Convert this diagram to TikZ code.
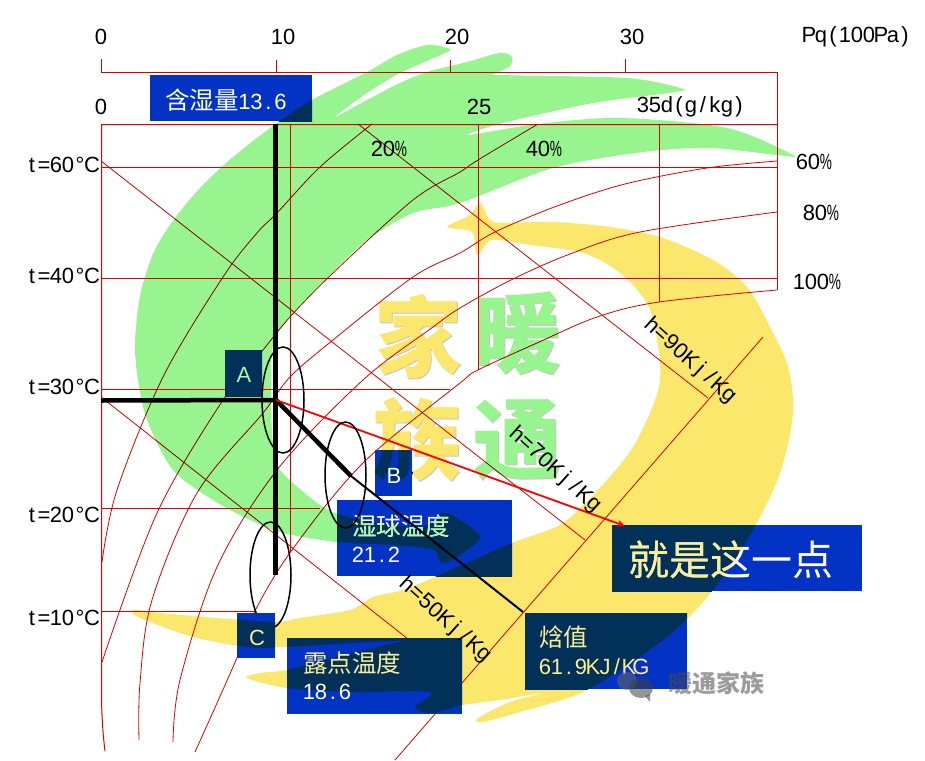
\documentclass[tikz,border=0pt]{standalone}
\usepackage{fontspec}
\setmainfont{Liberation Sans}
\newfontfamily\cjk{Noto Sans CJK SC}
\usetikzlibrary{arrows.meta,shapes.geometric}
\definecolor{logogreen}{HTML}{98F48E}
\definecolor{logoyellow}{HTML}{FBE76C}
\definecolor{boxblue}{HTML}{0233C4}
\definecolor{navy}{HTML}{013058}
\definecolor{gridred}{HTML}{DD0000}
\definecolor{paleg}{HTML}{B4F5A8}
\definecolor{paley}{HTML}{FBEE94}
\newcommand\LA{\fontsize{22}{24}\selectfont}
\newcommand\CA{\cjk\fontsize{24.5}{26}\selectfont}
\makeatletter
\newcommand\MC[2][12pt]{\@tfor\mcx:=#2\do{\hbox to #1{\hss\mcx\hss}}}
\makeatother
\newcommand\PC{\scalebox{.62}[1]{\%}}
\newcommand\greenshape{plot[smooth cycle,tension=.5] coordinates {(793,155)(777,155)(710,148)(643,152)(553,168)(460,203)(413,213)(367,240)(328,277)(290,317)(273,345)(271,400)(273,443)(280,470)(323,507)(360,520)(420,527)(443,513)(460,520)(480,537)(460,555)(442,563)(433,550)(393,545)(337,542)(283,533)(250,520)(213,500)(173,470)(147,420)(138,380)(135,343)(140,296)(153,254)(172,222)(200,188)(233,157)(277,123)(312,100)(367,72)(397,55)(427,45)(447,48)(447,52)(400,73)(367,93)(335,117)(367,100)(400,83)(427,72)(467,62)(500,53)(512,57)(510,66)(497,73)(500,75)(627,78)(680,88)(676,92)(593,103)(503,123)(468,135)(538,124)(620,118)(727,128)}}
\newcommand\yellowshape{plot[smooth cycle,tension=.5] coordinates {(480,203)(490,220)(503,223)(553,222)(610,227)(660,237)(713,260)(747,287)(770,327)(788,367)(793,413)(780,473)(753,530)(713,590)(667,637)(587,690)(520,712)(482,722)(478,718)(510,702)(543,693)(500,700)(462,705)(433,713)(415,707)(430,692)(353,692)(287,688)(247,678)(260,673)(287,670)(337,657)(407,640)(453,632)(440,638)(353,643)(287,647)(247,647)(193,637)(140,618)(133,610)(160,613)(217,618)(275,622)(300,618)(350,610)(373,597)(403,590)(437,576)(512,543)(563,523)(607,480)(637,440)(660,380)(650,310)(620,273)(583,253)(530,245)(492,240)(477,255)(472,232)(447,227)(470,215)}}
\newcommand\BlueBox[5]{%
  \pgfmathsetmacro\bxw{#4-#2}\pgfmathsetmacro\bxh{#5-#3}%
  \node[bluebox,minimum width=\bxw pt,minimum height=\bxh pt] (#1) at ({(#2+#4)/2},{(#3+#5)/2}) {};
  \begin{scope}\clip (#2,#3) rectangle (#4,#5); \fill[navy] \greenshape; \fill[navy] \yellowshape; \end{scope}}
\newcommand\BoxText[4]{%
  \node[boxtxt,text=white,#3] (#1) at (#2) {#4};
  \begin{scope}\clip \greenshape; \node[boxtxt,text=paleg,#3] (#1g) at (#2) {#4}; \end{scope}
  \begin{scope}\clip \yellowshape; \node[boxtxt,text=paley,#3] (#1y) at (#2) {#4}; \end{scope}}
\tikzset{
  bluebox/.style={fill=boxblue,draw=none,inner sep=0pt,outer sep=0pt},
  boxtxt/.style={inner sep=0pt,outer sep=0pt},
  lbl/.style={inner sep=0pt,outer sep=0pt,font=\LA,text=black},
  logochar/.style={inner sep=0pt,font=\cjk\bfseries\fontsize{88}{92}\selectfont},
  gridline/.style={draw=gridred,line width=1pt},
  thin curve/.style={draw=gridred,line width=.8pt,smooth,tension=.55},
  thin line/.style={draw=gridred,line width=.8pt},
  heavy/.style={draw=black,line cap=butt},
  ringline/.style={draw=black,line width=1.5pt,ellipse,inner sep=0pt}
}
\begin{document}
\begin{tikzpicture}[x=1pt,y=-1pt]
\useasboundingbox (0,0) rectangle (925,760);
\fill[white] (0,0) rectangle (925,760);
% logo
\fill[logogreen] \greenshape;
\fill[logoyellow] \yellowshape;
\node[logochar,text=black!22] (jiaS) at (419,338) {家};
\node[logochar,text=black!22] (nuanS) at (518,334) {暖};
\node[logochar,text=black!22] (zuS) at (418,441) {族};
\node[logochar,text=black!22] (tongS) at (518,441) {通};
\node[logochar,text=logoyellow] (jia) at (418,337) {家};
\node[logochar,text=logogreen] (nuan) at (517,333) {暖};
\node[logochar,text=logoyellow] (zu) at (417,440) {族};
\node[logochar,text=logogreen] (tong) at (517,440) {通};
% chart frame and grid
\draw[gridline] (101.5,59) -- (101.5,72.5) -- (777.5,72.5) -- (777.5,290);
\draw[gridline] (276.5,60) -- (276.5,72) (450.5,60) -- (450.5,72) (625.5,59) -- (625.5,72);
\draw[gridline] (777.5,124.5) -- (101.5,124.5) -- (101.5,700) .. controls (102,720) and (103,735) .. (105,751);
\draw[gridline] (101,167.5) -- (777,167.5) (101,278.5) -- (777,278.5) (101,389.5) -- (450,389.5) (101,508.5) -- (320,508.5) (101,611.5) -- (256,611.5);
\draw[gridline] (290.5,124) -- (290.5,552) (478.5,124) -- (478.5,370) (659.5,124) -- (659.5,302);
\begin{scope}[blend mode=multiply]
\draw[thin curve] plot coordinates {(372,124)(320,167)(277,213)(257,233)(223,277)(163,377)(117,490)(102,562)};
\draw[thin curve] plot coordinates {(538,124)(478,160)(460,172)(413,200)(333,273)(290,317)(263,350)(223,400)(157,513)(102,662)};
\draw[thin curve] plot coordinates {(777,161)(707,168)(625,184)(557,206)(495,232)(460,253)(413,277)(333,340)(290,377)(263,413)(197,493)(152,600)(140,683)(139,740)};
\draw[thin curve] plot coordinates {(777,212)(640,232)(570,254)(511,280)(460,308)(433,327)(363,380)(277,470)(217,567)(180,680)(173,742)};
\draw[thin curve] plot coordinates {(777,290)(659,302)(597,317)(537,343)(478,370)(460,383)(363,463)(292,550)(255,611)(236,660)(195,752)};
\draw[thin line] (358,124) -- (708,398);
\draw[thin line] (101,161) -- (585,540);
\draw[thin line] (101,397) -- (460,680);
\draw[thin line] (763,337) -- (395,760);
\end{scope}
% ellipse under box C
\node[ringline,minimum width=41pt,minimum height=106pt] (loopC) at (270.5,575) {};
% boxes
\BlueBox{boxD}{150}{75}{312}{121}
\BlueBox{boxA}{225}{350}{262}{396}
\BlueBox{boxB}{375}{450}{412}{496}
\begin{scope}\clip (375,450) rectangle (412,496); \node[logochar,text=navy] (zuB) at (417,440) {族}; \end{scope}
\BlueBox{boxW}{337}{500}{512}{576}
\BlueBox{boxC}{237}{613}{275}{658}
\BlueBox{boxL}{287}{638}{462}{714}
\BlueBox{boxH}{525}{613}{687}{689}
\BlueBox{boxP}{612}{525}{862}{591}
% box texts
\node[boxtxt,text=white,anchor=west] (tD) at (165,100) {{\CA 含湿量}{\LA\MC{13.6}}};
\node[boxtxt,text=paleg] (tA) at (244,375) {\LA A};
\node[boxtxt,text=white] (tB) at (394,476) {\LA B};
\node[boxtxt,text=paley] (tC) at (257,638) {\LA C};
\BoxText{tW}{352,526}{anchor=west}{\CA 湿球温度}
\node[boxtxt,text=white,anchor=west] (tWv) at (352,555) {\LA\MC{21.2}};
\node[boxtxt,text=paley,anchor=west] (tL) at (303,663) {\CA 露点温度};
\node[boxtxt,text=white,anchor=west] (tLv) at (303,692) {\LA\MC{18.6}};
\node[boxtxt,text=paley,anchor=west] (tH) at (539,637) {\CA 焓值};
\node[boxtxt,text=paley,anchor=west] (tHv) at (539,667) {\LA\MC{61.9KJ/KG}};
\BoxText{tP}{628,560}{anchor=west}{\cjk\fontsize{41}{44}\selectfont 就是这一点}
% state point and process lines
\coordinate (S) at (276,400);
\coordinate (dTop) at (275.5,124);
\coordinate (dBot) at (275.5,575);
\coordinate (tLeft) at (101,400.5);
\coordinate (wb) at (351,476);
\coordinate (hEnd) at (523,612);
\coordinate (tip) at (625,526);
\draw[heavy,line width=5pt] (dTop) -- (dBot);
\draw[heavy,line width=4.5pt] (tLeft) -- (S);
\draw[heavy,line width=4.5pt] (S) -- (wb);
\draw[heavy,line width=2pt] (wb) -- (hEnd);
\draw[draw=red,line width=1.8pt,-{Stealth[length=8pt,width=7pt]}] (S) -- (tip);
\node[ringline,minimum width=42pt,minimum height=106pt] (loopA) at (283,400) {};
\node[ringline,minimum width=41pt,minimum height=106pt] (loopB) at (345.5,475) {};
% labels
\node[lbl] (p0) at (101,37) {0};
\node[lbl] (p10) at (283,37) {10};
\node[lbl] (p20) at (457,37) {20};
\node[lbl] (p30) at (632,37) {30};
\node[lbl] (pq) at (857,37) {\MC{Pq(100Pa)}};
\node[lbl] (d0) at (101,107) {0};
\node[lbl] (d25) at (479,107) {25};
\node[lbl] (d35) at (691,107) {\MC{35d(g/kg)}};
\node[lbl] (t60) at (62,165) {\MC{t=60°C}};
\node[lbl] (t40) at (62,276) {\MC{t=40°C}};
\node[lbl] (t30) at (62,387) {\MC{t=30°C}};
\node[lbl] (t20) at (62,515) {\MC{t=20°C}};
\node[lbl] (t10) at (62,618) {\MC{t=10°C}};
\node[lbl] (r20) at (389,149) {\MC{20\PC}};
\node[lbl] (r40) at (544,149) {\MC{40\PC}};
\node[lbl] (r60) at (814,162) {\MC{60\PC}};
\node[lbl] (r80) at (821,213) {\MC{80\PC}};
\node[lbl] (r100) at (817,282) {\MC{100\PC}};
\node[lbl,rotate=-42] (h90) at (690,361) {\MC[13pt]{h=90Kj/Kg}};
\node[lbl,rotate=-42] (h70) at (555,470) {\MC[13pt]{h=70Kj/Kg}};
\node[lbl,rotate=-42] (h50) at (445,620) {\MC[13pt]{h=50Kj/Kg}};
% watermark
\begin{scope}[opacity=.55]
\fill[black!60] (627,681) ellipse (10pt and 9pt);
\fill[black!75] (641,688) ellipse (12pt and 10pt);
\fill[black!75] (645,696) -- (650,702) -- (650,694) -- cycle;
\node[inner sep=0pt,text=black!70,font=\cjk\bfseries\fontsize{24}{26}\selectfont] (wm) at (716,683) {暖通家族};
\end{scope}
\end{tikzpicture}
\end{document}
